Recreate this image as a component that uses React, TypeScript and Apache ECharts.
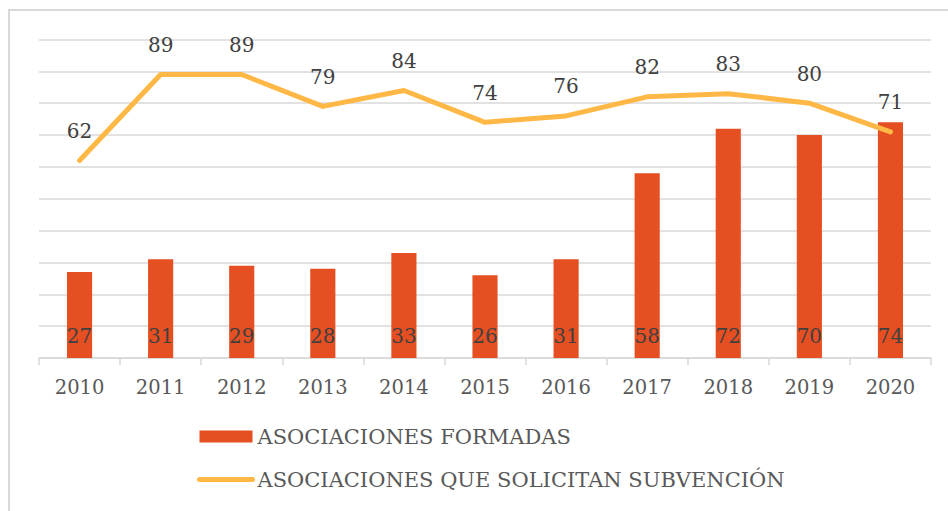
import React, { useEffect, useRef } from "react";
import * as echarts from "echarts";

const years = ["2010", "2011", "2012", "2013", "2014", "2015", "2016", "2017", "2018", "2019", "2020"];
const formadas = [27, 31, 29, 28, 33, 26, 31, 58, 72, 70, 74];
const solicitan = [62, 89, 89, 79, 84, 74, 76, 82, 83, 80, 71];
const seriesNames = ["ASOCIACIONES FORMADAS", "ASOCIACIONES QUE SOLICITAN SUBVENCIÓN"];

const FONT = "DejaVu Serif";

export default function App() {
  const ref = useRef<HTMLDivElement>(null);
  useEffect(() => {
    if (!ref.current) return;
    const chart = echarts.init(ref.current, undefined, { renderer: "svg" });
    chart.setOption({
      animation: false,
      backgroundColor: "#ffffff",
      textStyle: { fontFamily: FONT },
      graphic: [
        {
          type: "rect",
          shape: { x: 9, y: 10, width: 1000, height: 600 },
          style: { fill: "none", stroke: "#D9D9D9", lineWidth: 2 },
          silent: true,
        },
      ],
      grid: { left: 39, right: 17, top: 39.5, bottom: 153 },
      legend: {
        orient: "vertical",
        left: 192,
        top: 421,
        itemWidth: 53,
        itemHeight: 12,
        itemGap: 22,
        textStyle: { fontFamily: FONT, fontSize: 21, color: "#595959" },
        data: [
          { name: seriesNames[0], icon: "rect" },
          { name: seriesNames[1], itemStyle: { opacity: 0 }, lineStyle: { width: 5, cap: "round" } },
        ],
      },
      xAxis: {
        type: "category",
        data: years,
        axisLine: { lineStyle: { color: "#D9D9D9", width: 1.5 } },
        axisTick: { show: true, length: 7, lineStyle: { color: "#D9D9D9", width: 1.5 } },
        axisLabel: { fontFamily: FONT, fontSize: 19.5, color: "#595959", margin: 19 },
      },
      yAxis: {
        type: "value",
        min: 0,
        max: 100,
        interval: 10,
        axisLabel: { show: false },
        axisLine: { show: false },
        axisTick: { show: false },
        splitLine: { lineStyle: { color: "#D9D9D9", width: 1.5 } },
      },
      series: [
        {
          name: seriesNames[0],
          type: "bar",
          data: formadas,
          barWidth: "31%",
          itemStyle: { color: "#E64F22" },
          label: {
            show: true,
            position: "insideBottom",
            distance: 12,
            fontFamily: FONT,
            fontSize: 20,
            color: "#404040",
          },
        },
        {
          name: seriesNames[1],
          type: "line",
          data: solicitan,
          symbol: "circle",
          symbolSize: 1,
          showSymbol: true,
          lineStyle: { color: "#FFB845", width: 5, cap: "round", join: "round" },
          itemStyle: { color: "#FFB845" },
          label: {
            show: true,
            position: "top",
            distance: 19,
            fontFamily: FONT,
            fontSize: 20,
            color: "#404040",
          },
        },
      ],
    });
    return () => chart.dispose();
  }, []);
  return <div ref={ref} style={{ width: 948, height: 511, position: "absolute", left: 0, top: 0 }} />;
}
